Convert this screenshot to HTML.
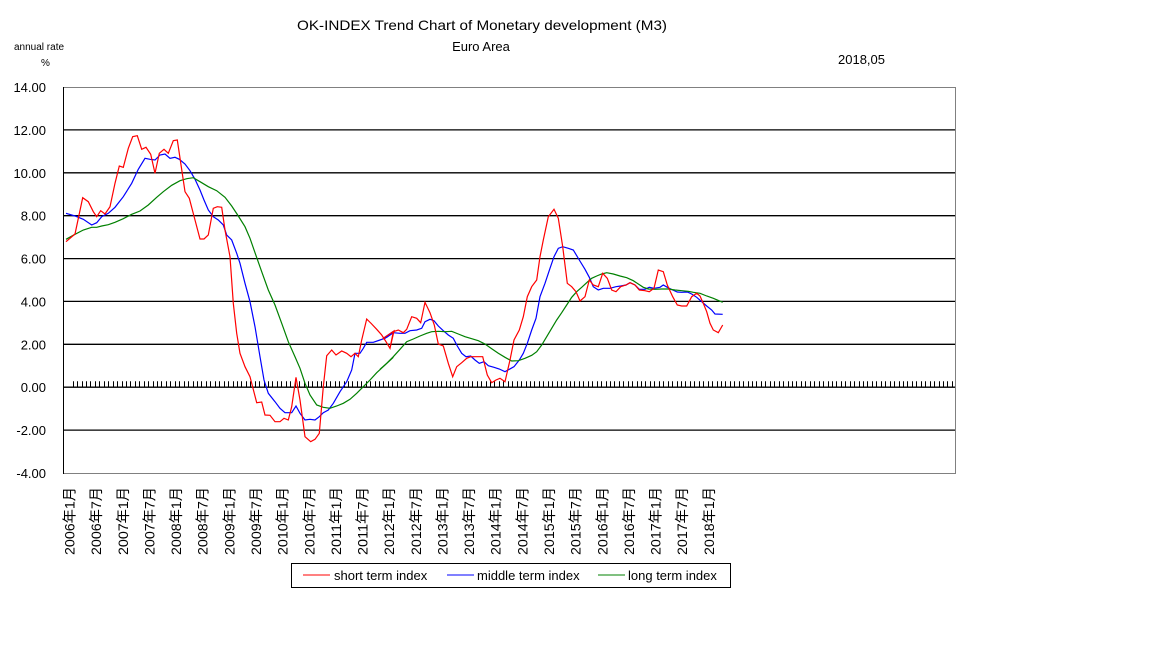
<!DOCTYPE html>
<html><head><meta charset="utf-8"><style>
body{margin:0;background:#fff;width:1152px;height:648px;overflow:hidden}
svg{font-family:"Liberation Sans","Noto Sans CJK JP",sans-serif}
</style></head><body>
<svg id="s" width="1152" height="648" xmlns="http://www.w3.org/2000/svg">
<text x="482" y="30" font-size="14" text-anchor="middle" textLength="370" lengthAdjust="spacingAndGlyphs">OK-INDEX Trend Chart of Monetary development (M3)</text>
<text x="481" y="51" font-size="13" text-anchor="middle">Euro Area</text>
<text x="14" y="50" font-size="10">annual rate</text>
<text x="41" y="66" font-size="10">%</text>
<text x="838" y="64" font-size="13">2018,05</text>
<g id="grid"></g>
<rect x="63.5" y="87.5" width="892" height="386" fill="none" stroke="#808080"/>
<line x1="63.5" y1="87" x2="63.5" y2="474" stroke="#000"/>
<g id="lines"></g>
<rect x="291.5" y="563.5" width="439" height="24" fill="#fff" stroke="#000"/>
<line x1="303" y1="575" x2="330" y2="575" stroke="red"/>
<text x="334" y="580" font-size="13">short term index</text>
<line x1="447" y1="575" x2="474" y2="575" stroke="blue"/>
<text x="477" y="580" font-size="13">middle term index</text>
<line x1="598" y1="575" x2="625" y2="575" stroke="green"/>
<text x="628" y="580" font-size="13">long term index</text>
</svg>
<script>
var NS="http://www.w3.org/2000/svg",s=document.getElementById('s'),g=document.getElementById('grid'),L=document.getElementById('lines');
function el(t,a,p,txt){var e=document.createElementNS(NS,t);for(var k in a)e.setAttribute(k,a[k]);if(txt)e.textContent=txt;(p||s).appendChild(e);return e;}
var labs=["14.00","12.00","10.00","8.00","6.00","4.00","2.00","0.00","-2.00","-4.00"];
for(var i=0;i<10;i++){var y=87+i*42.89;if(i>0&&i<9)el('line',{x1:63,x2:955,y1:y.toFixed(1),y2:y.toFixed(1),stroke:'#000','stroke-width':1.3},g);
el('text',{x:46,y:(y+5).toFixed(1),'font-size':13,'text-anchor':'end'},g,labs[i]);}
var zy=87+7*42.89;
for(var x=72.7;x<956;x+=4.44){var xx=Math.round(x)+0.5;el('line',{x1:xx,x2:xx,y1:zy-6,y2:zy,stroke:'#000'},g);}
for(var k=0;k<25;k++){var yr=2006+Math.floor(k/2),m=k%2?7:1,cx=69+k*26.64;
el('text',{x:0,y:0,'font-size':14,'text-anchor':'end',textLength:68,lengthAdjust:'spacingAndGlyphs',transform:'translate('+(cx+5.5).toFixed(1)+',487) rotate(-90)'},g,yr+'年'+m+'月');}
function poly(a,ox,oy,c){var p=[];for(var i=0;i<a.length;i+=2)p.push((ox+a[i]/3).toFixed(1)+','+(oy+a[i+1]/3).toFixed(1));return p.join(' ');}
function draw(a1,a2,c){var p=poly(a1,60,120)+' '+poly(a2,380,190);el('polyline',{points:p,fill:'none',stroke:c,'stroke-width':1.2},L);}
draw([18,280,45,288,70,298,95,315,110,308,125,290,145,280,165,262,190,230,215,190,235,148,255,115,270,118,285,120,300,105,315,102,330,115,345,112,358,118,375,132,390,152,405,178,420,210,432,240,445,270,460,290,475,300,490,315,500,345,515,360,530,400,540,430,555,490,570,545,585,620,600,710,612,780,625,820,645,845,660,865,675,878,695,878,708,858,720,880,735,900,750,898,765,900,778,890,790,878,805,870,820,850,840,815,860,785,875,750,885,700,900,700,910,685,920,667,940,667,960,660,975,655,990,645,1002,633],
[10,445,20,442,40,428,60,430,75,430,90,422,110,420,125,415,135,395,150,388,162,392,175,408,190,422,205,435,220,445,232,468,245,490,258,500,272,498,285,510,298,520,312,515,325,527,342,532,358,537,375,545,388,538,402,530,418,510,430,490,442,460,455,420,468,385,480,320,495,280,510,235,522,200,535,175,548,170,565,175,580,180,598,210,615,238,628,262,640,290,655,300,670,295,690,295,708,290,722,288,738,285,750,278,765,285,778,298,795,298,808,292,822,295,840,292,850,285,862,292,878,300,892,306,905,307,922,306,935,312,950,322,965,335,980,348,995,360,1005,372,1028,373],'blue');
draw([18,358,45,343,70,330,95,322,110,322,125,318,145,314,165,307,190,296,215,283,240,273,265,255,290,232,310,215,335,196,360,182,380,176,400,173,420,185,445,200,470,212,495,232,515,258,535,288,555,320,570,355,585,398,605,455,625,510,645,555,665,610,685,665,705,710,720,745,735,790,750,825,770,855,790,862,810,865,830,858,850,850,870,838,890,820,910,800,930,780,950,758,975,735,1000,712],
[0,538,20,520,40,500,60,478,80,455,100,447,120,438,140,430,155,425,175,424,195,425,215,424,235,432,255,440,275,446,295,452,315,462,335,476,355,490,375,502,395,513,415,512,435,505,455,496,470,485,485,465,500,440,515,415,530,390,545,368,560,345,575,322,590,305,605,292,620,278,635,265,650,258,665,252,680,248,700,252,720,258,740,263,760,272,775,282,790,292,805,297,825,298,845,297,865,297,885,300,905,302,925,304,940,307,960,310,980,318,1000,325,1028,337],'green');
draw([18,365,45,342,68,233,85,245,100,275,110,290,122,272,135,282,150,260,165,190,178,138,190,142,205,85,218,50,232,47,245,88,258,82,272,103,285,160,298,100,312,88,325,100,340,62,352,60,375,215,388,235,405,300,420,357,432,357,445,345,460,265,472,260,485,262,495,330,510,410,520,550,530,640,540,700,555,740,570,770,590,848,605,846,615,885,630,886,645,905,660,905,672,895,685,900,695,860,708,772,720,840,735,950,752,965,765,958,778,940,790,800,800,707,815,690,828,705,845,693,860,700,873,710,885,700,895,710,905,660,920,597,935,612,950,628,965,645,978,665,990,685,1002,633],
[10,445,15,450,30,475,40,425,55,420,70,428,80,418,95,380,110,385,122,398,135,337,150,368,163,405,175,462,190,468,205,520,218,560,230,530,245,518,260,505,272,500,295,500,308,500,322,555,335,578,348,570,360,565,375,575,390,510,402,450,418,420,430,380,442,320,455,290,470,270,480,200,490,150,505,80,522,58,535,85,548,170,562,280,575,290,588,305,600,333,615,320,628,270,640,285,655,290,668,250,682,265,695,300,708,305,722,290,738,285,750,278,765,285,778,300,795,302,808,305,822,295,835,240,850,245,862,285,878,320,892,345,905,348,920,348,935,320,950,310,960,318,972,345,980,365,990,400,1000,420,1015,428,1028,405],'red');
</script>
</body></html>
